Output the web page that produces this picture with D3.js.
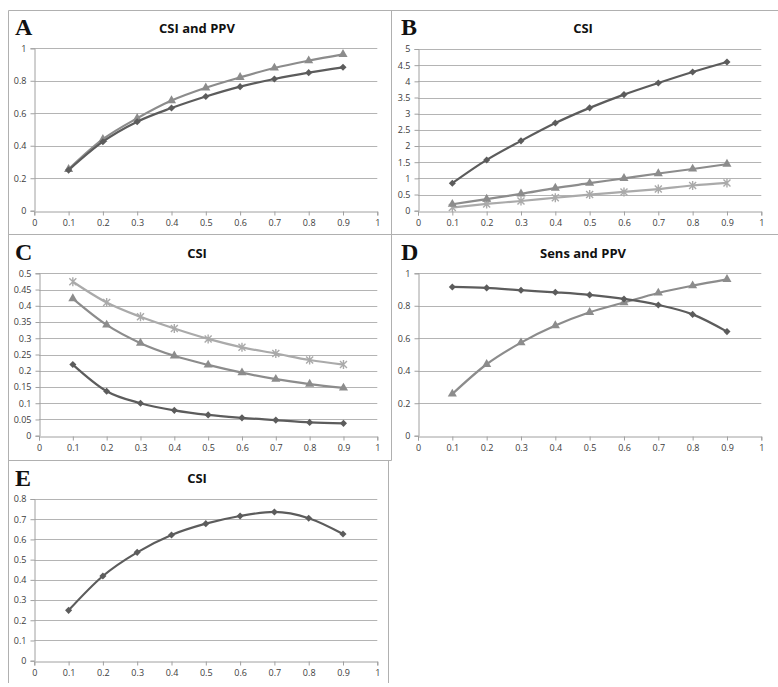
<!DOCTYPE html>
<html>
<head>
<meta charset="utf-8">
<script src="https://cdn.jsdelivr.net/npm/d3@7"></script>
<style>
  body { margin: 0; background: #ffffff; }
  svg { display: block; }
</style>
</head>
<body>
<div id="chart"></div>
<script>
/* Values */
const xValues = [0.1, 0.2, 0.3, 0.4, 0.5, 0.6, 0.7, 0.8, 0.9];

const aDiamond = [0.25, 0.425, 0.548, 0.632, 0.703, 0.764, 0.811, 0.85, 0.883];
const aTriangle = [0.255, 0.44, 0.569, 0.678, 0.757, 0.821, 0.879, 0.924, 0.963];

const bDiamond = [0.85, 1.57, 2.16, 2.71, 3.18, 3.59, 3.95, 4.29, 4.6];
const bTriangle = [0.2, 0.36, 0.52, 0.7, 0.85, 1.0, 1.15, 1.29, 1.44];
const bStar = [0.1, 0.21, 0.3, 0.4, 0.5, 0.58, 0.67, 0.78, 0.86];

const cStar = [0.474, 0.41, 0.366, 0.33, 0.298, 0.272, 0.253, 0.233, 0.219];
const cTriangle = [0.422, 0.341, 0.285, 0.246, 0.218, 0.194, 0.174, 0.159, 0.147];
const cDiamond = [0.219, 0.137, 0.1, 0.078, 0.064, 0.055, 0.048, 0.041, 0.038];

const dDiamond = [0.916, 0.91, 0.896, 0.883, 0.867, 0.842, 0.805, 0.747, 0.641];
const dTriangle = [0.257, 0.44, 0.573, 0.678, 0.76, 0.82, 0.879, 0.924, 0.963];

const eDiamond = [0.249, 0.419, 0.536, 0.622, 0.678, 0.716, 0.736, 0.705, 0.627];

const xTicks = [0, 0.1, 0.2, 0.3, 0.4, 0.5, 0.6, 0.7, 0.8, 0.9, 1];
const yTicksUnit = [0, 0.2, 0.4, 0.6, 0.8, 1];
const yTicksB = [0, 0.5, 1, 1.5, 2, 2.5, 3, 3.5, 4, 4.5, 5];
const yTicksC = [0, 0.05, 0.1, 0.15, 0.2, 0.25, 0.3, 0.35, 0.4, 0.45, 0.5];
const yTicksE = [0, 0.1, 0.2, 0.3, 0.4, 0.5, 0.6, 0.7, 0.8];

const width = 778;
const height = 687;

const colDark = "#5c5c5c";
const colMid = "#8c8c8c";
const colLight = "#aaaaaa";
const gridColor = "#b4b4b4";
const frameColor = "#b0b0b0";

const svg = d3.select("#chart")
  .append("svg")
  .attr("width", width)
  .attr("height", height);

/* Panel frames (thin grey boxes round each chart) */
const frames = svg.append("g")
  .attr("fill", "none")
  .attr("stroke", frameColor)
  .attr("stroke-width", 1);

frames.append("path").attr("d", "M8.5,683 V10.5 H778");
frames.append("path").attr("d", "M391.5,10.5 V460.5");
frames.append("path").attr("d", "M8.5,234.5 H778");
frames.append("path").attr("d", "M8.5,460.5 H391.5");
frames.append("path").attr("d", "M388.5,460.5 V683");

const panels = [
  {
    letter: "A", title: "CSI and PPV",
    left: 34.3, right: 377.3, top: 48.3, bottom: 210.7,
    yMax: 1, yTicks: yTicksUnit,
    letterX: 15, letterY: 35, titleX: 197, titleY: 33,
    series: [
      { values: aTriangle, color: colMid, marker: "triangle" },
      { values: aDiamond, color: colDark, marker: "diamond" }
    ]
  },
  {
    letter: "B", title: "CSI",
    left: 418, right: 761.3, top: 49, bottom: 210.7,
    yMax: 5, yTicks: yTicksB,
    letterX: 401, letterY: 35, titleX: 583, titleY: 33,
    series: [
      { values: bStar, color: colLight, marker: "star" },
      { values: bTriangle, color: colMid, marker: "triangle" },
      { values: bDiamond, color: colDark, marker: "diamond" }
    ]
  },
  {
    letter: "C", title: "CSI",
    left: 39, right: 377.3, top: 273.3, bottom: 435.7,
    yMax: 0.5, yTicks: yTicksC,
    letterX: 15, letterY: 260, titleX: 197, titleY: 258,
    series: [
      { values: cStar, color: colLight, marker: "star" },
      { values: cTriangle, color: colMid, marker: "triangle" },
      { values: cDiamond, color: colDark, marker: "diamond" }
    ]
  },
  {
    letter: "D", title: "Sens and PPV",
    left: 418, right: 761.3, top: 273.3, bottom: 435.7,
    yMax: 1, yTicks: yTicksUnit,
    letterX: 401, letterY: 260, titleX: 583, titleY: 258,
    series: [
      { values: dTriangle, color: colMid, marker: "triangle" },
      { values: dDiamond, color: colDark, marker: "diamond" }
    ]
  },
  {
    letter: "E", title: "CSI",
    left: 34.3, right: 377.3, top: 499, bottom: 660.7,
    yMax: 0.8, yTicks: yTicksE,
    letterX: 15, letterY: 486, titleX: 197, titleY: 483,
    series: [
      { values: eDiamond, color: colDark, marker: "diamond" }
    ]
  }
];

const diamondPath = d3.symbol().type(d3.symbolDiamond2).size(32)();
const trianglePath = d3.symbol().type(d3.symbolTriangle).size(36)();
const starPath = "M-3.5,-3.5L3.5,3.5M-3.5,3.5L3.5,-3.5M0,-4.5L0,4.5";

panels.forEach(p => {
  const g = svg.append("g");

  const x = d3.scaleLinear()
    .domain([0, 1])
    .range([p.left, p.right]);

  const y = d3.scaleLinear()
    .domain([0, p.yMax])
    .range([p.bottom, p.top]);

  // panel letter
  g.append("text")
    .attr("x", p.letterX)
    .attr("y", p.letterY)
    .attr("font-family", "'Liberation Serif', 'DejaVu Serif', serif")
    .attr("font-weight", "bold")
    .attr("font-size", 24)
    .attr("fill", "#111111")
    .text(p.letter);

  // title
  g.append("text")
    .attr("x", p.titleX)
    .attr("y", p.titleY)
    .attr("text-anchor", "middle")
    .attr("font-family", "'Open Sans', sans-serif")
    .attr("font-weight", "bold")
    .attr("font-size", 13)
    .attr("fill", "#111111")
    .text(p.title);

  // horizontal grid lines
  g.append("g")
    .selectAll("line")
    .data(p.yTicks.filter(t => t > 0))
    .join("line")
      .attr("x1", p.left)
      .attr("x2", p.right)
      .attr("y1", d => Math.round(y(d)) + 0.5)
      .attr("y2", d => Math.round(y(d)) + 0.5)
      .attr("stroke", gridColor)
      .attr("stroke-width", 1);

  // axes
  const xAxis = d3.axisBottom(x)
    .tickValues(xTicks)
    .tickSize(4)
    .tickPadding(4)
    .tickFormat(d => String(d));

  const yAxis = d3.axisLeft(y)
    .tickValues(p.yTicks)
    .tickSize(4)
    .tickPadding(4)
    .tickFormat(d => String(d));

  const xg = g.append("g")
    .attr("transform", `translate(0,${Math.round(p.bottom) + 0.5})`)
    .call(xAxis);

  const yg = g.append("g")
    .attr("transform", `translate(${Math.round(p.left) + 0.5},0)`)
    .call(yAxis);

  [xg, yg].forEach(ax => {
    ax.select(".domain").attr("stroke", "#a0a0a0");
    ax.selectAll(".tick line").attr("stroke", "#a0a0a0");
    ax.selectAll(".tick text")
      .attr("font-family", "'Open Sans', sans-serif")
      .attr("font-size", 9)
      .attr("fill", "#3c3c3c");
  });

  const line = d3.line()
    .x((d, i) => x(xValues[i]))
    .y(d => y(d))
    .curve(d3.curveMonotoneX);

  p.series.forEach(s => {
    g.append("path")
      .datum(s.values)
      .attr("fill", "none")
      .attr("stroke", s.color)
      .attr("stroke-width", 2.2)
      .attr("d", line);

    const marks = g.append("g")
      .selectAll("path")
      .data(s.values)
      .join("path")
        .attr("transform", (d, i) => `translate(${x(xValues[i])},${y(d)})`);

    if (s.marker === "diamond") {
      marks.attr("d", diamondPath).attr("fill", s.color);
    } else if (s.marker === "triangle") {
      marks.attr("d", trianglePath).attr("fill", s.color);
    } else {
      marks.attr("d", starPath)
        .attr("fill", "none")
        .attr("stroke", s.color)
        .attr("stroke-width", 1.4);
    }
  });
});
</script>
</body>
</html>
